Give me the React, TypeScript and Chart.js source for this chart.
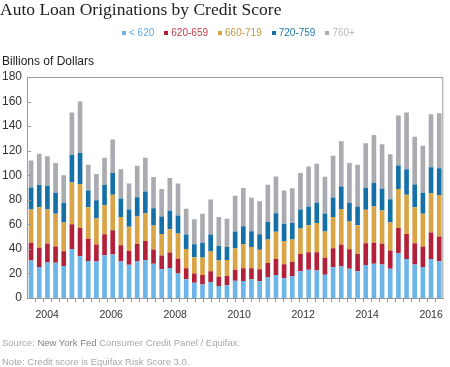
import React, { useEffect, useRef } from "react";
import { Chart, registerables } from "chart.js";
Chart.register(...registerables);

const quarters = [
  "2004Q1","2004Q2","2004Q3","2004Q4","2005Q1","2005Q2","2005Q3","2005Q4",
  "2006Q1","2006Q2","2006Q3","2006Q4","2007Q1","2007Q2","2007Q3","2007Q4",
  "2008Q1","2008Q2","2008Q3","2008Q4","2009Q1","2009Q2","2009Q3","2009Q4",
  "2010Q1","2010Q2","2010Q3","2010Q4","2011Q1","2011Q2","2011Q3","2011Q4",
  "2012Q1","2012Q2","2012Q3","2012Q4","2013Q1","2013Q2","2013Q3","2013Q4",
  "2014Q1","2014Q2","2014Q3","2014Q4","2015Q1","2015Q2","2015Q3","2015Q4",
  "2016Q1","2016Q2","2016Q3",
];

const yearLabels = ["2004","2005","2006","2007","2008","2009","2010","2011","2012","2013","2014","2015","2016"];
const shownYears = ["2004","2006","2008","2010","2012","2014","2016"];
const yTicks = [0, 20, 40, 60, 80, 100, 120, 140, 160, 180];

const under620 = [30.5,25.3,29,28.8,26,40,34,30.2,29.7,34.8,35.4,29.7,27,29.7,30.7,27.8,23.4,24.5,20,15.2,12.5,10.9,13,9.8,10.3,14.1,13.9,15.2,13.6,16.6,18.8,16,17.7,21.8,23.1,22.3,19,25,25.6,23.9,21.8,26.9,27.8,27.2,23.9,36.5,31.8,27.2,25.3,31.8,29.9];
const s620_659 = [14.5,15.7,15.4,13.2,12,20,23,18,13.8,17.2,19.8,13.3,11.4,14.3,15.8,11.7,11.2,12.5,12,9,7.4,7.9,8.8,7.6,7.7,9,10.3,9,9.8,12,13,11.5,11.7,14.1,14.2,15,13.7,15.5,17.7,15.8,14.1,17.7,17.1,16.9,14.7,20.6,20.4,17.4,16.6,21.5,20.1];
const s660_719 = [27,33,27.6,26.6,23.5,34,35.8,25.8,21.5,23.6,28.8,23,19.6,22.4,22.5,19.5,17.6,19,20.5,15.8,13.3,14.1,16,13.1,13,17.4,19.6,17.4,15.8,19,22.1,19,18.2,20.7,22,23.7,21.4,25.4,29.1,22.6,23.4,27.2,29.7,27.2,22.9,31.6,31.9,29.4,26.7,32.1,33.8];
const s720_759 = [18,18,19.4,17.1,16,22.5,25.2,13.6,14.7,16.4,17.8,15,14,15.6,17.8,14.2,14.2,15,14.7,11.7,10.6,12,13.9,11.9,10.6,13.6,14.7,12.8,12.8,14.2,15.2,13.9,13.4,15.5,15.3,16.6,14.7,16,18.5,15.3,15.3,18,19,17.7,19,19.3,20.7,18.5,17.1,21,21.8];
const s760plus = [22,25.5,24,24.3,22.5,34.5,42,21,21.3,22.3,27.2,23.8,21.3,25.8,27.5,25.3,22.3,26.7,26.1,21,20.4,23.7,28.6,23.5,22.9,29.2,31,27.2,26.9,30.4,29.9,27.2,28.3,29.7,32.6,31.8,30,34,36.7,32.4,34,36.2,39.2,36.2,36.5,40.6,46.2,38.9,38.4,43.3,44.9];

const seriesNames = ["< 620", "620-659", "660-719", "720-759", "760+"];
const barColors = ["#6cb5e8", "#b3203a", "#d9a445", "#1570a8", "#a9abb0"];
const legendTextColors = ["#5cade6", "#c53a4b", "#c9963c", "#1d78b2", "#b8babe"];

export default function App() {
  const ref = useRef<HTMLCanvasElement | null>(null);
  useEffect(() => {
    if (!ref.current) return;
    const values = [under620, s620_659, s660_719, s720_759, s760plus];
    const framePlugin = {
      id: "frame",
      afterDraw(chart: any) {
        const { ctx, chartArea } = chart;
        const y = chart.scales.y;
        ctx.save();
        ctx.strokeStyle = "#9a9a9a";
        ctx.lineWidth = 1;
        ctx.beginPath();
        ctx.moveTo(chartArea.left + 0.5, chartArea.bottom);
        ctx.lineTo(chartArea.left + 0.5, chartArea.top + 0.5);
        ctx.lineTo(chartArea.right - 0.5, chartArea.top + 0.5);
        ctx.lineTo(chartArea.right - 0.5, chartArea.bottom);
        ctx.stroke();
        ctx.beginPath();
        y.ticks.forEach((t: any) => {
          const py = Math.round(y.getPixelForValue(t.value)) + 0.5;
          ctx.moveTo(chartArea.left, py);
          ctx.lineTo(chartArea.left + 4, py);
        });
        ctx.stroke();
        ctx.restore();
      },
    };
    const chart = new Chart(ref.current, {
      type: "bar",
      data: {
        labels: quarters,
        datasets: seriesNames.map((name, i) => ({
          label: name,
          data: values[i],
          backgroundColor: barColors[i],
          borderWidth: 0,
          barPercentage: 0.57,
          categoryPercentage: 1,
          xAxisID: "x",
          yAxisID: "y",
        })),
      },
      options: {
        animation: false,
        responsive: true,
        maintainAspectRatio: false,
        layout: { padding: { left: 0, right: 5, top: 77, bottom: 39 } },
        plugins: { legend: { display: false }, tooltip: { enabled: false }, title: { display: false } },
        scales: {
          x: { type: "category", stacked: true, display: false, offset: true },
          xt: {
            type: "linear",
            position: "bottom",
            min: -0.5,
            max: quarters.length - 0.5,
            afterBuildTicks: (s: any) => {
              const arr: any[] = [];
              for (let i = 0; i < quarters.length - 1; i++) arr.push({ value: i + 0.5 });
              s.ticks = arr;
            },
            afterFit: (s: any) => { s.height = 30; },
            ticks: {
              autoSkip: false,
              maxRotation: 0,
              padding: 7,
              color: "#333",
              font: { family: "'Liberation Sans', Arial, sans-serif", size: 10.5 },
              callback: (v: any) => {
                const k = (Number(v) - 1.5) / 4;
                if (Number.isInteger(k)) {
                  const yr = yearLabels[k];
                  return shownYears.includes(yr) ? yr : "";
                }
                return "";
              },
            },
            grid: { display: true, drawOnChartArea: false, drawTicks: true, tickLength: 4, color: "#9a9a9a" },
            border: { display: true, color: "#9a9a9a" },
          },
          y: {
            type: "linear",
            stacked: true,
            min: 0,
            max: 180,
            afterBuildTicks: (s: any) => { s.ticks = yTicks.map((v) => ({ value: v })); },
            afterFit: (s: any) => { s.width = 27; },
            ticks: {
              padding: 5,
              color: "#333",
              font: { family: "'Liberation Sans', Arial, sans-serif", size: 12 },
            },
            grid: { display: false, drawTicks: false },
            border: { display: false },
          },
        },
      },
      plugins: [framePlugin],
    });
    return () => chart.destroy();
  }, []);

  const sans = "'Liberation Sans', Arial, sans-serif";
  return (
    <div style={{ position: "fixed", left: 0, top: 0, width: 450, height: 367, background: "#fff", overflow: "hidden" }}>
      <canvas ref={ref} style={{ position: "absolute", left: 0, top: 0, width: 450, height: 367 }} />
      <div style={{ position: "absolute", left: 0, top: 0, fontFamily: "'Liberation Serif', 'Times New Roman', serif", fontSize: 17.5, lineHeight: "18px", color: "#222", whiteSpace: "nowrap" }}>
        Auto Loan Originations by Credit Score
      </div>
      <div style={{ position: "absolute", left: 122, top: 27, display: "flex", alignItems: "center", fontFamily: sans, fontSize: 10, lineHeight: "12px", whiteSpace: "nowrap" }}>
        {seriesNames.map((n, i) => (
          <span key={n} style={{ display: "flex", alignItems: "center", marginRight: 10, color: legendTextColors[i] }}>
            <span style={{ display: "inline-block", width: 4, height: 4, background: barColors[i], marginRight: 3 }} />
            {n}
          </span>
        ))}
      </div>
      <div style={{ position: "absolute", left: 2, top: 55, fontFamily: sans, fontSize: 12, lineHeight: "12px", color: "#222", whiteSpace: "nowrap" }}>
        Billions of Dollars
      </div>
      <div style={{ position: "absolute", left: 2, top: 338, fontFamily: sans, fontSize: 9.5, lineHeight: "10px", color: "#a8a8a8", whiteSpace: "nowrap" }}>
        Source: <span style={{ color: "#808080" }}>New York Fed</span> Consumer Credit Panel / Equifax.
      </div>
      <div style={{ position: "absolute", left: 2, top: 357, fontFamily: sans, fontSize: 9.5, lineHeight: "10px", color: "#a8a8a8", whiteSpace: "nowrap" }}>
        Note: Credit score is Equifax Risk Score 3.0.
      </div>
    </div>
  );
}
